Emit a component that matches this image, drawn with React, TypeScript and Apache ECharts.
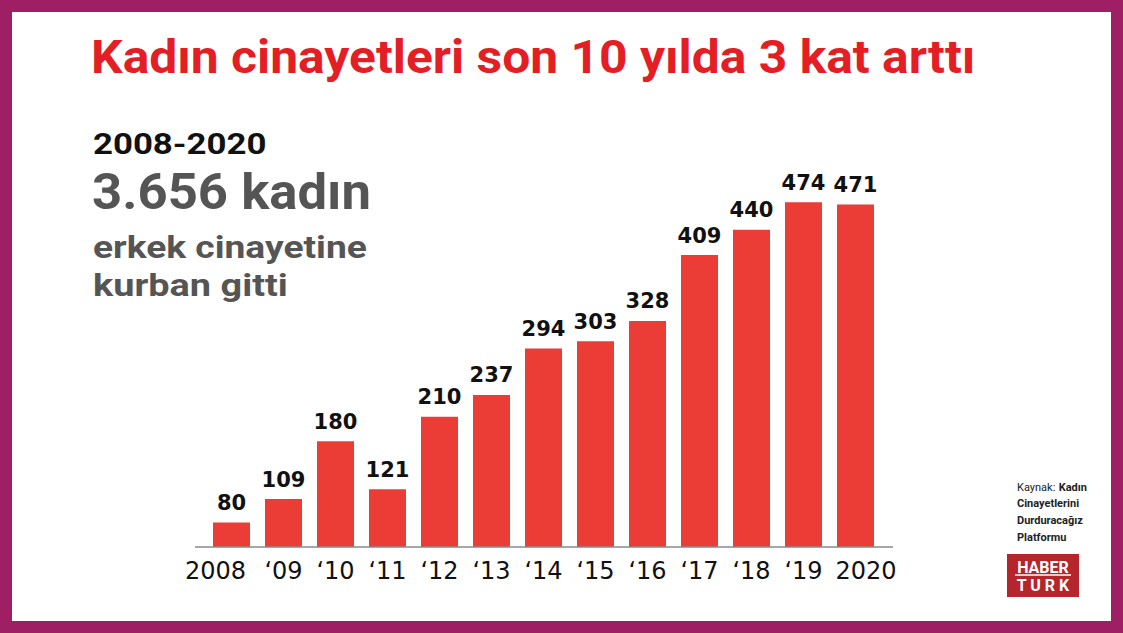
import React, { useEffect, useRef } from "react";
import * as echarts from "echarts";

const categories = ["2008", "‘09", "‘10", "‘11", "‘12", "‘13", "‘14", "‘15", "‘16", "‘17", "‘18", "‘19", "2020"];
const values = [80, 109, 180, 121, 210, 237, 294, 303, 328, 409, 440, 474, 471];

const titleText = "Kadın cinayetleri son 10 yılda 3 kat arttı";
const periodText = "2008-2020";
const totalText = "3.656 kadın";
const subLines = ["erkek cinayetine", "kurban gitti"];
const sourceLines = ["Kadın", "Cinayetlerini", "Durduracağız", "Platformu"];

const FONT = "Roboto, 'Noto Sans', sans-serif";
const WIDE = "'DejaVu Sans', sans-serif";

export default function App() {
  const ref = useRef<HTMLDivElement>(null);
  useEffect(() => {
    if (!ref.current) return;
    const chart = echarts.init(ref.current, undefined, { renderer: "svg" });
    const graphics: any[] = [
      { type: "rect", shape: { x: 12, y: 12, width: 1099, height: 609 }, style: { fill: "#ffffff" }, z: 0 },
      {
        type: "text", x: 91, y: 58, z: 5, scaleX: 1.082,
        style: { text: titleText, fill: "#E31E25", font: `bold 46px ${FONT}`, verticalAlign: "middle", align: "left" },
      },
      {
        type: "text", x: 93, y: 144, z: 5, scaleX: 1.16,
        style: { text: periodText, fill: "#111111", font: `bold 30px ${FONT}`, verticalAlign: "middle" },
      },
      {
        type: "text", x: 92, y: 192, z: 5, scaleX: 1.053,
        style: { text: totalText, fill: "#555555", font: `bold 50px ${FONT}`, verticalAlign: "middle" },
      },
      {
        type: "text", x: 93, y: 247, z: 5, scaleX: 1.162,
        style: { text: subLines[0], fill: "#555555", font: `bold 32px ${FONT}`, verticalAlign: "middle" },
      },
      {
        type: "text", x: 93, y: 285, z: 5, scaleX: 1.184,
        style: { text: subLines[1], fill: "#555555", font: `bold 32px ${FONT}`, verticalAlign: "middle" },
      },
      {
        type: "line", z: 5,
        shape: { x1: 195, y1: 547, x2: 893, y2: 547 },
        style: { stroke: "#8a8a8a", lineWidth: 1.5 },
      },
      {
        type: "text", x: 1017, y: 487, z: 5,
        style: {
          text: "{n|Kaynak:} {b|" + sourceLines[0] + "}",
          verticalAlign: "middle",
          rich: {
            n: { font: `11px ${FONT}`, fill: "#222" },
            b: { font: `bold 11px ${FONT}`, fill: "#222" },
          },
        },
      },
      ...sourceLines.slice(1).map((t, i) => ({
        type: "text", x: 1017, y: 503.7 + i * 16.7, z: 5,
        style: { text: t, fill: "#222", font: `bold 11px ${FONT}`, verticalAlign: "middle" },
      })),
      { type: "rect", z: 5, shape: { x: 1007, y: 554, width: 72, height: 43 }, style: { fill: "#B5252B" } },
      {
        type: "text", x: 1043, y: 567, z: 6,
        style: { text: "HABER", fill: "#fff", font: `bold 16px ${FONT}`, align: "center", verticalAlign: "middle" },
      },
      { type: "line", z: 6, shape: { x1: 1015, y1: 575, x2: 1071, y2: 575 }, style: { stroke: "#fff", lineWidth: 1.5 } },
      {
        type: "text", x: 1043, y: 585, z: 6,
        style: { text: "T U R K", fill: "#fff", font: `bold 16px ${FONT}`, align: "center", verticalAlign: "middle" },
      },
    ];

    const last = categories.length - 1;
    chart.setOption({
      animation: false,
      backgroundColor: "#9E1F63",
      grid: { left: 205.5, right: 241.5, top: 181, bottom: 86 },
      xAxis: {
        type: "category",
        data: categories,
        axisLine: { show: false },
        axisTick: { show: false },
        axisLabel: {
          color: "#111", fontSize: 24, fontFamily: WIDE, margin: 12, interval: 0,
          formatter: (v: string, i: number) => (i === 0 ? `{first|${v}}` : i === last ? `{last|${v}}` : v),
          rich: {
            first: { color: "#111", fontSize: 24, fontFamily: WIDE, padding: [0, 32, 0, 0] },
            last: { color: "#111", fontSize: 24, fontFamily: WIDE, padding: [0, 0, 0, 21] },
          },
        },
      },
      yAxis: { type: "value", min: 50, max: 500, show: false, splitLine: { show: false } },
      series: [
        {
          type: "bar",
          data: values,
          barWidth: 37,
          itemStyle: { color: "#EB3C35" },
          label: { show: true, position: "top", distance: 9, color: "#111", fontSize: 21, fontWeight: "bold", fontFamily: WIDE },
          z: 3,
        },
      ],
      graphic: graphics,
    });
    return () => chart.dispose();
  }, []);
  return <div ref={ref} style={{ position: "fixed", left: 0, top: 0, width: 1123, height: 633 }} />;
}
